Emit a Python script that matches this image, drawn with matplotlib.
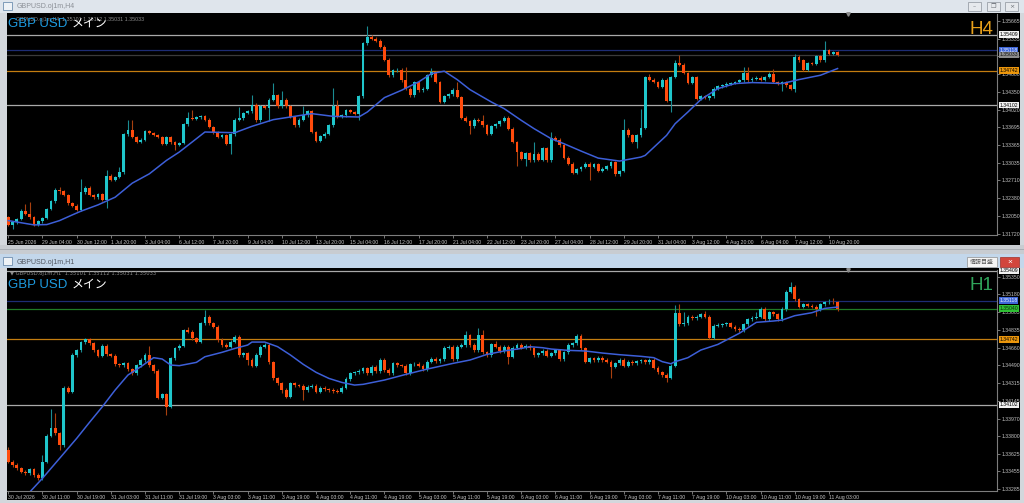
import numpy as np
import matplotlib.pyplot as plt
from matplotlib.patches import Rectangle
from matplotlib.transforms import blended_transform_factory

W, H = 1024, 503
PIP = 0.0001
plt.rcParams['font.family'] = ['Liberation Sans', 'Noto Sans CJK JP', 'DejaVu Sans']

# ============================================================
# H4 DATA  (GBPUSD, closes, open = prev close)
# ============================================================
h4_first_open = 1.32028
h4_close = [
    1.31892, 1.31935, 1.31997, 1.32152, 1.32090, 1.32028, 1.31892, 1.31954, 1.32016, 1.32183,
    1.32325, 1.32536, 1.32511, 1.32437, 1.32288, 1.32245, 1.32164, 1.32492, 1.32573, 1.32437,
    1.32399, 1.32455, 1.32350, 1.32795, 1.32721, 1.32771, 1.32857, 1.33562, 1.33637, 1.33513,
    1.33420, 1.33463, 1.33624, 1.33587, 1.33550, 1.33513, 1.33389, 1.33513, 1.33414, 1.33364,
    1.33402, 1.33748, 1.33866, 1.33853, 1.33878, 1.33896, 1.33835, 1.33698, 1.33600, 1.33513,
    1.33544, 1.33389, 1.33562, 1.33835, 1.33859, 1.33958, 1.33989, 1.34113, 1.33822, 1.34082,
    1.34057, 1.34206, 1.34286, 1.34082, 1.34206, 1.34082, 1.33884, 1.33729, 1.33835, 1.33915,
    1.33995, 1.33606, 1.33439, 1.33525, 1.33575, 1.33729, 1.34082, 1.33884, 1.33915, 1.34008,
    1.33977, 1.33946, 1.34268, 1.35245, 1.35369, 1.35332, 1.35294, 1.35183, 1.34948, 1.34657,
    1.34750, 1.34762, 1.34565, 1.34410, 1.34286, 1.34534, 1.34379, 1.34410, 1.34657, 1.34719,
    1.34534, 1.34162, 1.34268, 1.34305, 1.34391, 1.34255, 1.33872, 1.33810, 1.33711, 1.33835,
    1.33810, 1.33729, 1.33575, 1.33711, 1.33748, 1.33810, 1.33872, 1.33668, 1.33420, 1.33235,
    1.33111, 1.33216, 1.33080, 1.33204, 1.33092, 1.33309, 1.33080, 1.33501, 1.33463, 1.33358,
    1.33129, 1.33018, 1.32845, 1.32913, 1.32956, 1.33018, 1.32956, 1.33006, 1.32882, 1.32925,
    1.32969, 1.33049, 1.32820, 1.32882, 1.33649, 1.33544, 1.33420, 1.33544, 1.33686, 1.34626,
    1.34577, 1.34534, 1.34441, 1.34577, 1.34181, 1.34626, 1.34886, 1.34855, 1.34701, 1.34515,
    1.34626, 1.34224, 1.34268, 1.34243, 1.34268, 1.34410, 1.34453, 1.34472, 1.34503, 1.34515,
    1.34534, 1.34565, 1.34701, 1.34565, 1.34595, 1.34614, 1.34577, 1.34626, 1.34688, 1.34534,
    1.34503, 1.34534, 1.34472, 1.34410, 1.34998, 1.34936, 1.34762, 1.34886, 1.34874, 1.35010,
    1.34936, 1.35121, 1.35059, 1.35090, 1.35033,
]
# wick lengths in pips beyond the body (bars not listed get the default)
h4_wick_up = {4: 12, 5: 22, 12: 6, 17: 25, 23: 10, 26: 10, 28: 19, 29: 20, 42: 11, 43: 14,
              54: 21, 57: 17, 62: 22, 64: 16, 69: 17, 76: 33, 77: 11, 84: 20, 93: 24, 99: 8,
              105: 14, 111: 11, 123: 22, 127: 11, 144: 20, 148: 35, 150: 6, 156: 5, 157: 14,
              172: 11, 173: 11, 179: 9, 184: 6, 191: 17}
h4_wick_dn = {1: 8, 12: 6, 23: 15, 39: 9, 52: 19, 61: 24, 82: 12, 108: 14, 119: 25, 121: 14,
              136: 24, 147: 11, 155: 20, 164: 4, 181: 14, 184: 6}
h4_ma_bar = [0, 6, 9, 12, 15, 17, 21, 25, 29, 33, 37, 40, 43, 46, 53, 57, 62, 65, 71, 76,
             82, 84, 88, 92, 96, 99, 102, 105, 108, 113, 116, 120, 123, 127, 130, 134, 138, 143,
             148, 149, 154, 156, 159, 162, 166, 170, 174, 177, 181, 185, 190, 194]
h4_ma = [1.31966, 1.31886, 1.31892, 1.31966, 1.32072, 1.32140, 1.32257, 1.32399, 1.32659, 1.32832,
         1.33080, 1.33235, 1.33420, 1.33606, 1.33593, 1.33711, 1.33835, 1.33872, 1.33946, 1.33896,
         1.33884, 1.33977, 1.34243, 1.34379, 1.34534, 1.34688, 1.34732, 1.34577, 1.34391, 1.34162,
         1.34039, 1.33822, 1.33668, 1.33482, 1.33389, 1.33253, 1.33123, 1.33068, 1.33142, 1.33173,
         1.33544, 1.33760, 1.33977, 1.34206, 1.34410, 1.34503, 1.34521, 1.34515, 1.34503, 1.34577,
         1.34657, 1.34781]
h4_yticks = [1.35665, 1.35335, 1.35005, 1.34680, 1.34350, 1.34020, 1.33695, 1.33365, 1.33035,
             1.32710, 1.32380, 1.32050, 1.31720]
h4_times = ["25 Jun 2026", "29 Jun 04:00", "30 Jun 12:00", "1 Jul 20:00", "3 Jul 04:00",
            "6 Jul 12:00", "7 Jul 20:00", "9 Jul 04:00", "10 Jul 12:00", "13 Jul 20:00",
            "15 Jul 04:00", "16 Jul 12:00", "17 Jul 20:00", "21 Jul 04:00", "22 Jul 12:00",
            "23 Jul 20:00", "27 Jul 04:00", "28 Jul 12:00", "29 Jul 20:00", "31 Jul 04:00",
            "3 Aug 12:00", "4 Aug 20:00", "6 Aug 04:00", "7 Aug 12:00", "10 Aug 20:00"]

# ============================================================
# H1 DATA
# ============================================================
h1_first_open = 1.33663
h1_close = [
    1.33550, 1.33517, 1.33485, 1.33452, 1.33436, 1.33478, 1.33420, 1.33388, 1.33550, 1.33803,
    1.33881, 1.33826, 1.33712, 1.34270, 1.34232, 1.34589, 1.34637, 1.34712, 1.34744, 1.34702,
    1.34637, 1.34582, 1.34679, 1.34595, 1.34582, 1.34498, 1.34491, 1.34507, 1.34452, 1.34410,
    1.34491, 1.34540, 1.34589, 1.34491, 1.34433, 1.34173, 1.34206, 1.34085, 1.34556, 1.34653,
    1.34679, 1.34832, 1.34816, 1.34751, 1.34718, 1.34897, 1.34962, 1.34897, 1.34864, 1.34735,
    1.34686, 1.34670, 1.34718, 1.34767, 1.34589, 1.34605, 1.34540, 1.34485, 1.34589, 1.34670,
    1.34686, 1.34517, 1.34361, 1.34313, 1.34248, 1.34183, 1.34313, 1.34296, 1.34290, 1.34248,
    1.34280, 1.34290, 1.34232, 1.34270, 1.34257, 1.34248, 1.34238, 1.34232, 1.34270, 1.34355,
    1.34410, 1.34420, 1.34433, 1.34459, 1.34410, 1.34475, 1.34433, 1.34540, 1.34443, 1.34410,
    1.34507, 1.34491, 1.34485, 1.34410, 1.34498, 1.34504, 1.34485, 1.34452, 1.34524, 1.34550,
    1.34530, 1.34546, 1.34660, 1.34670, 1.34550, 1.34670, 1.34686, 1.34783, 1.34686, 1.34637,
    1.34783, 1.34615, 1.34589, 1.34692, 1.34670, 1.34628, 1.34670, 1.34572, 1.34660, 1.34686,
    1.34660, 1.34679, 1.34653, 1.34589, 1.34605, 1.34628, 1.34582, 1.34605, 1.34637, 1.34550,
    1.34615, 1.34686, 1.34702, 1.34777, 1.34653, 1.34524, 1.34556, 1.34540, 1.34563, 1.34540,
    1.34524, 1.34475, 1.34507, 1.34540, 1.34485, 1.34524, 1.34507, 1.34530, 1.34537, 1.34517,
    1.34540, 1.34465, 1.34420, 1.34394, 1.34368, 1.34485, 1.34994, 1.34887, 1.34897, 1.34962,
    1.34946, 1.34962, 1.34985, 1.34962, 1.34757, 1.34874, 1.34881, 1.34887, 1.34897, 1.34864,
    1.34842, 1.34832, 1.34887, 1.34939, 1.34952, 1.34962, 1.35037, 1.34939, 1.35004, 1.34985,
    1.34939, 1.35037, 1.35205, 1.35254, 1.35134, 1.35059, 1.35082, 1.35069, 1.35059, 1.35037,
    1.35082, 1.35101, 1.35108, 1.35101, 1.35033,
]
h1_wick_up = {0: 3, 8: 6, 10: 18, 11: 14, 33: 9, 42: 3, 46: 7, 107: 4, 110: 7, 111: 5,
              114: 3, 156: 8, 157: 9, 158: 11, 163: 3, 175: 5, 177: 2, 183: 5, 192: 3, 193: 4}
h1_wick_dn = {12: 5, 37: 8, 56: 5, 64: 3, 69: 10, 117: 7, 141: 11, 154: 4, 189: 7}
h1_ma_bar = [5, 8, 13, 16, 19, 22, 25, 28, 31, 34, 36, 38, 40, 44, 46, 50, 53, 56, 57, 60,
             63, 66, 69, 72, 75, 78, 81, 83, 88, 93, 98, 104, 108, 112, 116, 120, 122, 125, 127,
             131, 135, 139, 143, 148, 151, 153, 155, 156, 159, 162, 166, 171, 175, 179, 181, 184,
             188, 191, 194]
h1_ma = [1.33253, 1.33388, 1.33631, 1.33777, 1.33933, 1.34085, 1.34248, 1.34394, 1.34475, 1.34563,
         1.34550, 1.34491, 1.34485, 1.34517, 1.34572, 1.34615, 1.34653, 1.34686, 1.34715, 1.34715,
         1.34670, 1.34589, 1.34498, 1.34420, 1.34361, 1.34322, 1.34296, 1.34303, 1.34345, 1.34400,
         1.34452, 1.34507, 1.34540, 1.34595, 1.34628, 1.34653, 1.34670, 1.34660, 1.34647, 1.34634,
         1.34628, 1.34608, 1.34592, 1.34576, 1.34563, 1.34524, 1.34504, 1.34524, 1.34563, 1.34637,
         1.34692, 1.34800, 1.34907, 1.34920, 1.34929, 1.34972, 1.35001, 1.35043, 1.35056]
h1_yticks = [1.35350, 1.35180, 1.35005, 1.34835, 1.34660, 1.34490, 1.34315, 1.34145, 1.33970,
             1.33800, 1.33625, 1.33455, 1.33285]
h1_times = ["30 Jul 2026", "30 Jul 11:00", "30 Jul 19:00", "31 Jul 03:00", "31 Jul 11:00",
            "31 Jul 19:00", "3 Aug 03:00", "3 Aug 11:00", "3 Aug 19:00", "4 Aug 03:00",
            "4 Aug 11:00", "4 Aug 19:00", "5 Aug 03:00", "5 Aug 11:00", "5 Aug 19:00",
            "6 Aug 03:00", "6 Aug 11:00", "6 Aug 19:00", "7 Aug 03:00", "7 Aug 11:00",
            "7 Aug 19:00", "10 Aug 03:00", "10 Aug 11:00", "10 Aug 19:00", "11 Aug 03:00"]

# horizontal levels shared by both charts
level_price = [1.35409, 1.35118, 1.34742, 1.34102]
level_color = ['#a9a9a9', '#1d2c74', '#c47d10', '#a9a9a9']
level_box = ['#f2f2f2', '#3f66d8', '#eb960c', '#f2f2f2']
level_text = ['#000000', '#e8eeff', '#000000', '#000000']
last_ohlc = "1.35101 1.35112 1.35031 1.35033"

BULL, BEAR = '#1fc6cb', '#ff4b0c'
WICK_BULL, WICK_BEAR = '#1a8c92', '#a8400f'
MA_COL = '#3d5fd8'
TXT = '#c4c4c4'

fig = plt.figure(figsize=(W / 100, H / 100), dpi=100, facecolor='#d3d7dc')


def fx(x):
    return x / W


def fy(y):
    return 1 - y / H


def box(x0, y0, x1, y1, fc, ec='none', lw=0, z=-5):
    fig.add_artist(Rectangle((fx(x0), fy(y1)), (x1 - x0) / W, (y1 - y0) / H,
                             transform=fig.transFigure, fc=fc, ec=ec, lw=lw, zorder=z))


# ------------------------------------------------------------
# window chrome
# ------------------------------------------------------------
box(0, 0, W, 13, '#dfe5ec')
box(7, 13.5, 1020, 245, '#000000')
box(0, 245, W, 254, '#c8ccd1')
box(0, 249, W, 250, '#a9aeb4', z=-4)
box(0, 254, W, 268, '#c3d7eb')
box(7, 268, 1020, 500, '#000000')

for y0 in (2, 257):
    box(3, y0, 12, y0 + 8, '#eef2f6', ec='#6f8fb0', lw=0.6, z=2)
fig.text(fx(17), fy(7), "GBPUSD.oj1m,H4", fontsize=5, color='#8a8f96', va='center')
fig.text(fx(17), fy(262), "GBPUSD.oj1m,H1", fontsize=5, color='#505660', va='center')
for x0, glyph in zip((968, 987, 1005), ("–", "❐", "×")):
    box(x0, 2, x0 + 13, 11, '#e6e9ed', ec='#9aa0a8', lw=0.6, z=2)
    fig.text(fx(x0 + 6.5), fy(6.5), glyph, fontsize=4.5, color='#6a6f76', ha='center',
             va='center', zorder=3, family=['DejaVu Sans'])
box(967, 257, 997, 267, '#f4f4f4', ec='#8f8f8f', lw=0.5, z=2)
fig.text(fx(982), fy(262), "情報目盛", fontsize=4.3, color='#555555', ha='center', va='center',
         zorder=3)
box(1000, 257, 1019, 267, '#d2463c', ec='#a03028', lw=0.5, z=2)
fig.text(fx(1009.5), fy(262), "×", fontsize=6, color='white', ha='center', va='center',
         zorder=3)


def draw_panel(rect_px, first_open, closes, wick_up, wick_dn, wick_def, min_body,
               ma_bar, ma_val, ylim, yticks, times, extra_line, extra_box, tf, tf_col):
    x0, y0, x1, y1 = rect_px
    ax = fig.add_axes([fx(x0), fy(y1), (x1 - x0) / W, (y1 - y0) / H])
    ax.set_facecolor('black')

    closes = np.asarray(closes)
    opens = np.r_[first_open, closes[:-1]]
    idx = np.arange(len(closes))
    hi_body = np.maximum(opens, closes)
    lo_body = np.minimum(opens, closes)
    up = np.array([wick_up.get(i, wick_def) for i in idx]) * PIP
    dn = np.array([wick_dn.get(i, wick_def) for i in idx]) * PIP
    bull = closes >= opens

    # levels
    for p, c in zip(level_price, level_color):
        ax.axhline(p, color=c, lw=0.9, zorder=1)
    ax.axhline(extra_line[0], color=extra_line[1], lw=0.9, zorder=1)

    ax.vlines(idx, lo_body - dn, hi_body + up,
              colors=np.where(bull, WICK_BULL, WICK_BEAR), lw=0.8, zorder=3)
    ax.bar(idx, np.maximum(hi_body - lo_body, min_body), bottom=lo_body, width=0.66,
           color=np.where(bull, BULL, BEAR), lw=0, zorder=4)
    ax.plot(ma_bar, ma_val, color=MA_COL, lw=1.1, zorder=5)

    ax.set_xlim(-0.304, 231.3)
    ax.set_ylim(*ylim)

    for s in ('left', 'top'):
        ax.spines[s].set_visible(False)
    for s in ('right', 'bottom'):
        ax.spines[s].set_color('#7d7d7d')
        ax.spines[s].set_linewidth(0.8)

    ax.set_xticks(np.arange(0, 8 * len(times), 8))
    ax.set_xticklabels(times)
    for t in ax.get_xticklabels():
        t.set_ha('left')
    ax.yaxis.tick_right()
    ax.set_yticks(yticks)
    ax.set_yticklabels([f"{v:.5f}" for v in yticks])
    ax.tick_params(axis='both', direction='out', length=2.2, width=0.6, color='#8a8a8a',
                   labelsize=3.7, labelcolor=TXT, pad=1.2)

    # price boxes on the axis
    tr = blended_transform_factory(ax.transAxes, ax.transData)
    boxes = list(zip(level_price, level_box, level_text)) + [extra_box]
    for p, fc, tc in boxes:
        yy = min(p, ylim[1] - 0.00004)
        ax.text(1.0025, yy, f"{p:.5f}", transform=tr, fontsize=3.7, color=tc,
                ha='left', va='center', zorder=6, clip_on=False,
                bbox=dict(boxstyle='square,pad=0.15', fc=fc, ec='none'))

    # chart shift marker
    ax.plot([0.8495], [1.0], marker='v', ms=2.5, color='#8a8a8a',
            transform=ax.transAxes, clip_on=False)

    # timeframe label
    ax.text(0.996, 0.93, tf, transform=ax.transAxes, fontsize=13.5, color=tf_col,
            ha='right', va='center')
    return ax


draw_panel((7, 14, 997, 235), h4_first_open, h4_close, h4_wick_up, h4_wick_dn, 2.5, 0.00013,
           h4_ma_bar, h4_ma, (1.31699, 1.35791), h4_yticks, h4_times,
           (1.35033, '#3a3a3a'), (1.35033, '#8c8c8c', '#111111'), 'H4', '#e8a01a')
draw_panel((7, 270, 997, 490.7), h1_first_open, h1_close, h1_wick_up, h1_wick_dn, 1.5,
           0.00007, h1_ma_bar, h1_ma, (1.33267, 1.35417), h1_yticks, h1_times,
           (1.35040, '#1f7a26'), (1.35040, '#2fbf34', '#0a2a0a'), 'H1', '#2fa55a')

# chart headers (small OHLC line sits behind the big pair name, as in the terminal)
fig.text(fx(16), fy(19), "GBPUSD.oj1m,H4  " + last_ohlc, fontsize=3.8, color='#8c8c8c',
         va='center', zorder=5)
fig.text(fx(10), fy(274), "▼ GBPUSD.oj1m,H1  " + last_ohlc, fontsize=3.8, color='#8c8c8c',
         va='center', zorder=5, family=['DejaVu Sans'])
for yb in (27, 288):
    fig.text(fx(8), fy(yb), "GBP USD", fontsize=9.5, color='#1e9be0', va='baseline', zorder=6)
    fig.text(fx(72), fy(yb), "メイン", fontsize=8.6, color='white', va='baseline', zorder=6,
             family=['Noto Sans CJK JP', 'DejaVu Sans'])

fig.savefig('out.png', dpi=100, facecolor=fig.get_facecolor())
